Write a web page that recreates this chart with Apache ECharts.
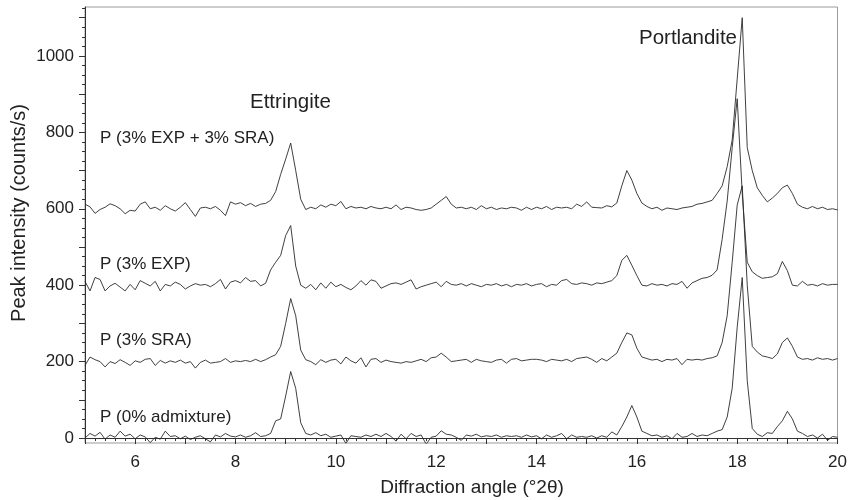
<!DOCTYPE html>
<html>
<head>
<meta charset="utf-8">
<script src="https://cdn.jsdelivr.net/npm/echarts@6/dist/echarts.min.js"></script>
<style>
  html, body { margin: 0; padding: 0; background: #fff; }
  #main { width: 850px; height: 500px; }
</style>
</head>
<body>
<div id="main"></div>
<script type="text/javascript">
// diffraction angle grid: 5.0 .. 20.0 deg 2theta, 0.1 step
var angleStart = 5.0;
var angleStep = 0.1;

// intensities (counts/s), traces already offset by 0/200/400/600
var p0 = [
  0, 12, 5, 15, -3, 8, 2, 18, 5, 10,
  -2, 8, 3, -12, 2, -3, 18, 4, 6, -2,
  5, -4, 2, 6, -2, -10, 8, 3, 12, 5,
  3, 8, 2, 6, 14, 4, 6, 12, 45, 50,
  110, 174, 130, 40, 12, 8, 14, 6, 10, 2,
  5, 8, -14, 6, 4, 2, 8, 4, 10, 4,
  12, 4, -8, 10, -2, 12, 4, 8, -16, 2,
  5, 19, 10, 8, 2, -6, 8, 5, 10, 3,
  6, 4, 8, 2, 6, 4, 6, 2, 8, 3,
  6, -2, 8, 2, 6, 12, -2, 8, 2, 4,
  2, 6, 0, 6, 2, 16, 8, 30, 55, 85,
  55, 18, 12, 6, 8, 2, 6, -2, 12, 2,
  4, 12, 4, 8, 6, 12, 18, 22, 55, 130,
  290, 420, 150, 25, 10, 4, 14, 12, 30, 45,
  70, 50, 18, 12, 4, 8, 0, 10, -6, 4,
  2
];
var sra = [
  190, 212, 205, 200, 186, 200, 195, 205, 198, 190,
  202, 198, 206, 208, 190, 203, 196, 202, 198, 204,
  196, 200, 183, 198, 204, 196, 198, 200, 208, 198,
  202, 200, 203, 200, 206, 200, 205, 212, 218, 240,
  300, 365, 320, 230, 205, 200, 192, 205, 198, 204,
  206, 194, 212, 202, 196, 210, 186, 206, 208, 198,
  204, 200, 198, 196, 200, 198, 202, 206, 200, 210,
  212, 222, 212, 200, 202, 204, 206, 198, 206, 202,
  200, 198, 204, 206, 196, 206, 208, 202, 204, 206,
  206, 204, 200, 206, 204, 202, 206, 200, 208, 210,
  212, 206, 198, 208, 202, 212, 222, 250, 275, 270,
  235, 212, 208, 204, 206, 200, 206, 204, 208, 192,
  206, 204, 206, 204, 208, 210, 215, 250, 320, 460,
  610, 660, 400, 240, 225, 215, 212, 208, 220, 250,
  262, 240, 212, 206, 208, 204, 210, 206, 208, 204,
  208
];
var exp = [
  410, 385, 420, 415, 385, 398, 405, 395, 385, 402,
  388, 412, 405, 398, 410, 385, 402, 398, 408, 402,
  390, 398, 404, 400, 402, 396, 404, 415, 390, 408,
  412, 406, 420, 410, 412, 398, 405, 440, 460, 478,
  530, 556, 450, 400, 392, 402, 388, 406, 392, 408,
  396, 402, 394, 388, 398, 412, 400, 414, 410, 392,
  398, 404, 406, 402, 408, 414, 390, 396, 400, 404,
  408, 396, 410, 402, 400, 404, 398, 404, 400, 396,
  402, 400, 404, 398, 402, 396, 402, 400, 404, 398,
  402, 404, 396, 402, 400, 412, 415, 404, 402, 406,
  404, 400, 406, 404, 408, 412, 425, 465, 478, 452,
  425, 400, 398, 404, 400, 402, 398, 404, 402, 410,
  392, 406, 412, 418, 420, 426, 440, 520, 620, 760,
  888, 640, 460, 435, 425, 418, 420, 422, 430, 462,
  438, 400, 398, 410, 400, 402, 398, 404, 400, 402,
  402
];
var expSra = [
  612, 605, 588, 598, 604, 613, 608, 600, 587, 596,
  594, 612, 618, 600, 604, 596, 608, 600, 594, 604,
  616, 598, 580, 602, 604, 600, 606, 596, 582, 618,
  612, 616, 608, 614, 606, 612, 614, 622, 645, 690,
  730, 772, 700, 625, 598, 604, 600, 610, 604, 612,
  608, 619, 600, 606, 602, 604, 600, 606, 602, 600,
  604, 600, 610, 598, 604, 602, 598, 596, 598, 602,
  612, 622, 632, 612, 602, 604, 600, 604, 598, 608,
  600, 604, 598, 602, 600, 604, 602, 596, 604, 598,
  604, 600, 606, 598, 604, 602, 604, 600, 612, 606,
  618, 604, 603, 602, 608, 605, 615, 660, 700, 675,
  640, 615, 606, 600, 604, 596, 602, 600, 598, 602,
  604, 606, 612, 614, 618, 622, 640, 660, 710, 780,
  940, 1100, 760, 700, 655, 635, 618, 628, 640, 655,
  662, 640, 612, 604, 600, 606, 600, 604, 598, 600,
  597
];

var seriesNames = ['P (0% admixture)', 'P (3% SRA)', 'P (3% EXP)', 'P (3% EXP + 3% SRA)'];
var seriesData = [p0, sra, exp, expSra];

var xLabels = [6, 8, 10, 12, 14, 16, 18, 20];
var yLabels = [0, 200, 400, 600, 800, 1000];
var yTicks = [0, 100, 200, 300, 400, 500, 600, 700, 800, 900, 1000, 1100];
var yMinor = [];
for (var v = 0; v <= 1125; v += 25) yMinor.push(v);

function pairs(arr) {
    var out = [];
    for (var i = 0; i < arr.length; i++) {
        out.push([+(angleStart + i * angleStep).toFixed(1), arr[i]]);
    }
    return out;
}

var myChart = echarts.init(document.getElementById('main'), null, { renderer: 'canvas' });

var textColor = '#222';
var font = 'Liberation Sans, Arial, Helvetica, sans-serif';

var option = {
    animation: false,
    backgroundColor: '#fff',
    textStyle: { fontFamily: font },
    grid: {
        left: 85, right: 11, top: 7, bottom: 57,
        show: true, borderColor: '#9a9a9a', borderWidth: 1
    },
    xAxis: {
        type: 'value',
        min: 5, max: 20, interval: 1,
        axisLine: { lineStyle: { color: '#333', width: 1 } },
        axisTick: { length: 6, lineStyle: { color: '#333' } },
        minorTick: { show: true, splitNumber: 5, length: 3, lineStyle: { color: '#333' } },
        splitLine: { show: false },
        axisLabel: {
            fontSize: 17, color: textColor, margin: 11, fontFamily: font,
            customValues: xLabels
        }
    },
    yAxis: [{
        type: 'value',
        min: -13, max: 1128,
        axisLine: { show: true, lineStyle: { color: '#333', width: 1 } },
        axisTick: { show: true, length: 6, customValues: yTicks, lineStyle: { color: '#333' } },
        splitLine: { show: false },
        axisLabel: {
            fontSize: 17, color: textColor, margin: 11, fontFamily: font,
            customValues: yLabels,
            formatter: function (val) { return String(val); }
        }
    }, {
        type: 'value',
        position: 'left',
        min: -13, max: 1128,
        axisLine: { show: false },
        axisTick: { show: true, length: 3, customValues: yMinor, lineStyle: { color: '#333' } },
        axisLabel: { show: false },
        splitLine: { show: false }
    }],
    graphic: [
        // axis titles
        { type: 'text', x: 472, y: 488, style: { text: 'Diffraction angle (°2θ)', fontSize: 19, fill: textColor, fontFamily: font, align: 'center', verticalAlign: 'middle' } },
        { type: 'text', x: 19, y: 213, rotation: Math.PI / 2, style: { text: 'Peak intensity (counts/s)', fontSize: 20, fill: textColor, fontFamily: font, align: 'center', verticalAlign: 'middle' } },
        // trace labels
        { type: 'text', left: 100, top: 130, style: { text: seriesNames[3], fontSize: 17, fill: textColor, fontFamily: font } },
        { type: 'text', left: 100, top: 256, style: { text: seriesNames[2], fontSize: 17, fill: textColor, fontFamily: font } },
        { type: 'text', left: 100, top: 332, style: { text: seriesNames[1], fontSize: 17, fill: textColor, fontFamily: font } },
        { type: 'text', left: 100, top: 409, style: { text: seriesNames[0], fontSize: 17, fill: textColor, fontFamily: font } },
        // phase labels
        { type: 'text', left: 250, top: 92, style: { text: 'Ettringite', fontSize: 20.5, fill: textColor, fontFamily: font } },
        { type: 'text', left: 639, top: 28, style: { text: 'Portlandite', fontSize: 20.5, fill: textColor, fontFamily: font } }
    ],
    series: seriesData.map(function (d, k) {
        return {
            name: seriesNames[k],
            type: 'line',
            yAxisIndex: 0,
            data: pairs(d),
            symbol: 'none',
            smooth: false,
            lineStyle: { color: '#2a2a2a', width: 0.9 },
            z: 3
        };
    })
};

myChart.setOption(option);
</script>
</body>
</html>
